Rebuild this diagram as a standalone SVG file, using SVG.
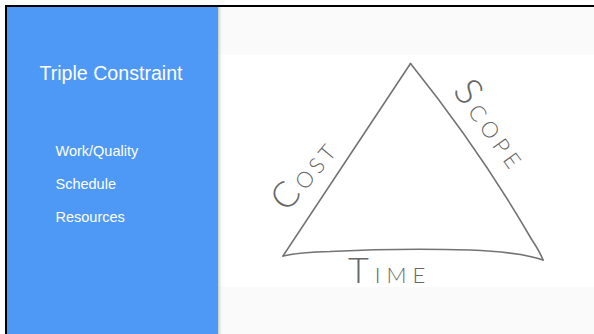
<svg xmlns="http://www.w3.org/2000/svg" width="594" height="334" viewBox="0 0 594 334">
  <defs>
    <linearGradient id="shadow" x1="0" y1="0" x2="1" y2="0">
      <stop offset="0" stop-color="#c8c8c8"/>
      <stop offset="1" stop-color="#fafafa" stop-opacity="0"/>
    </linearGradient>
    <style>
      .side { font-family: "Liberation Sans", Arial, sans-serif; fill: #ffffff; }
      .hand { font-family: Lato, "DejaVu Sans", sans-serif; font-weight: 300; fill: #666666; }
      .edge { fill: none; stroke: #737373; stroke-width: 1.6; stroke-linecap: round; stroke-linejoin: round; }
    </style>
  </defs>

  <rect x="0" y="0" width="594" height="334" fill="#ffffff"/>
  <rect x="6" y="6" width="600" height="340" fill="#fafafa" stroke="#000000" stroke-width="2"/>

  <g id="photo">
    <rect x="218" y="55" width="376" height="232" fill="#ffffff"/>
  </g>

  <g id="panel">
    <rect x="218" y="7" width="5" height="327" fill="url(#shadow)"/>
    <rect x="7" y="7" width="211" height="327" fill="#4f99f6"/>
    <text class="side" x="111" y="80" font-size="19.6" text-anchor="middle">Triple Constraint</text>
    <text class="side" x="55.5" y="156" font-size="14.5">Work/Quality</text>
    <text class="side" x="55.5" y="189" font-size="14.5">Schedule</text>
    <text class="side" x="55.5" y="222" font-size="14.5">Resources</text>
  </g>

  <g id="triangle">
    <path class="edge" d="M410.5 63.5 L283 256"/>
    <path class="edge" d="M410.5 63.5 Q480 150 532 240 Q540 252 543 260"/>
    <path class="edge" d="M283 256 Q300 252 330 251.5 Q400 248 470 250 Q520 252 543 260"/>
  </g>

  <g id="label-cost">
    <text class="hand" transform="translate(287 213) rotate(-50)" letter-spacing="4"><tspan font-size="36">C</tspan><tspan font-size="22">OST</tspan></text>
  </g>

  <g id="label-scope">
    <text class="hand" transform="translate(452 91) rotate(54)" letter-spacing="5"><tspan font-size="38">S</tspan><tspan font-size="22">COPE</tspan></text>
  </g>

  <g id="label-time">
    <text class="hand" x="348" y="283" letter-spacing="6"><tspan font-size="36">T</tspan><tspan font-size="22">IME</tspan></text>
  </g>
</svg>
